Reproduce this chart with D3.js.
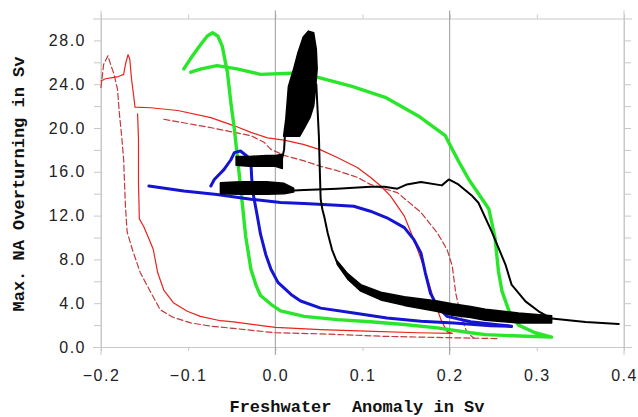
<!DOCTYPE html>
<html><head><meta charset="utf-8">
<script src="https://cdn.jsdelivr.net/npm/d3@7"></script>
<style>
body{margin:0;background:#fff;}
.tick text{font-family:"Liberation Sans",Arial,sans-serif;font-size:16px;letter-spacing:1.5px;fill:#222;}
.title{font-family:"Liberation Mono","Courier New",monospace;font-weight:bold;font-size:17px;fill:#111;}
</style></head><body>
<svg width="638" height="417"></svg>
<script>
// tick values
const xTicks=[-0.2,-0.1,0.0,0.1,0.2,0.3,0.4];
const xMajor=[-0.2,0.0,0.2,0.4];
const yTicks=[0,2,4,6,8,10,12,14,16,18,20,22,24,26,28,30];
const yLabels=[0,4,8,12,16,20,24,28];

// red thin solid loop [freshwater, overturning]
const redSolid=[[-0.200,24.3],[-0.195,24.5],[-0.187,24.6],[-0.180,24.7],[-0.174,24.9],[-0.172,25.8],[-0.169,26.7],[-0.167,26.3],[-0.165,24.5],[-0.162,22.6],[-0.161,21.9],
 [-0.143,21.85],[-0.112,21.6],[-0.074,20.95],[-0.047,20.2],[-0.028,19.6],[-0.009,19.1],[0.010,18.9],[0.032,18.5],[0.052,18.0],[0.071,17.3],[0.094,16.4],[0.109,15.5],[0.121,14.7],[0.132,13.8],[0.148,11.95],[0.159,9.8],[0.170,7.4],[0.182,4.3],[0.190,2.5],[0.197,1.4],[0.203,1.25],
 [0.164,1.3],[0.104,1.45],[0.052,1.58],[0.0,1.79],[-0.048,2.3],[-0.063,2.4],[-0.086,2.8],[-0.101,3.26],[-0.117,4.05],[-0.128,5.2],[-0.135,6.8],[-0.140,8.9],[-0.143,9.5],[-0.151,11.0],[-0.156,11.7],[-0.157,15.0],[-0.157,19.0],[-0.158,21.3]];
// red dashed, lower part and upper branch
const redDashLow=[[-0.200,23.7],[-0.197,25.8],[-0.192,26.6],[-0.189,25.8],[-0.185,24.9],[-0.181,23.5],[-0.179,21.4],[-0.176,19.0],[-0.174,17.1],[-0.172,12.9],[-0.170,10.5],[-0.164,8.9],[-0.155,6.8],[-0.143,5.0],[-0.132,3.4],[-0.117,2.7],[-0.097,2.2],[-0.074,1.9],[-0.048,1.7],[0.0,1.3],[0.052,1.2],[0.126,0.97],[0.201,0.85],[0.256,0.76]];
const redDashUp=[[-0.128,20.8],[-0.107,20.5],[-0.072,20.0],[-0.028,19.3],[-0.013,18.7],[-0.005,18.05],[0.010,17.5],[0.033,17.0],[0.052,16.5],[0.071,16.1],[0.094,15.5],[0.109,14.85],[0.121,14.55],[0.140,14.1],[0.167,12.3],[0.186,10.4],[0.197,8.9],[0.203,7.4],[0.207,4.9],[0.213,2.8],[0.220,1.3],[0.228,0.8]];
// green loop
const green=[[-0.105,25.4],[-0.095,26.6],[-0.085,27.7],[-0.078,28.4],[-0.072,28.7],[-0.066,28.4],[-0.061,27.5],[-0.055,25.1],[-0.051,22.3],[-0.047,19.9],[-0.044,17.7],[-0.040,14.7],[-0.034,10.1],[-0.028,7.1],[-0.022,5.6],[-0.017,4.7],[-0.005,3.9],[0.006,3.3],[0.033,2.8],[0.071,2.5],[0.109,2.3],[0.148,2.05],[0.186,1.75],[0.224,1.3],[0.241,1.13],[0.280,1.0],[0.317,0.9],
 [0.298,1.3],[0.279,2.0],[0.268,3.3],[0.260,5.1],[0.256,6.9],[0.252,10.0],[0.245,12.6],[0.222,15.3],[0.210,17.0],[0.203,18.05],[0.195,19.3],[0.164,21.1],[0.126,22.8],[0.088,23.8],[0.050,24.6],[0.018,25.0],[-0.017,24.9],[-0.044,25.4],[-0.067,25.7],[-0.085,25.4],[-0.097,25.1]];
// blue
const blueUp=[[-0.145,14.7],[-0.105,14.25],[-0.067,13.93],[-0.028,13.5],[0.006,13.2],[0.033,13.1],[0.071,12.95],[0.090,12.85],[0.109,12.4],[0.128,11.8],[0.148,10.9],[0.159,9.8],[0.167,8.6],[0.172,6.8],[0.178,4.9],[0.186,3.7],[0.197,2.8],[0.224,2.3],[0.247,2.1],[0.271,1.9]];
const blueLow=[[-0.074,14.7],[-0.070,15.3],[-0.059,16.2],[-0.051,17.1],[-0.047,17.75],[-0.040,17.9],[-0.032,17.4],[-0.028,16.8],[-0.027,15.3],[-0.025,13.8],[-0.021,12.1],[-0.017,10.3],[-0.011,8.45],[-0.005,7.1],[0.003,5.9],[0.018,4.8],[0.029,4.2],[0.052,3.55],[0.090,3.1],[0.128,2.65],[0.167,2.35],[0.205,2.2],[0.247,1.95],[0.271,1.88]];
// black: thin parts
const blackLine=[[0.021,14.3],[0.033,14.33],[0.071,14.46],[0.109,14.64],[0.125,14.64],[0.140,14.46],[0.151,14.85],[0.167,15.06],[0.191,14.76],[0.199,15.3],[0.210,14.85],[0.226,13.78],[0.233,13.17],[0.248,10.58],[0.264,7.53],[0.271,5.7],[0.287,4.17],[0.302,3.26],[0.317,2.6],[0.356,2.29],[0.394,2.1]];
const blackDrop=[[0.047,24.0],[0.050,19.2],[0.051,16.2],[0.052,13.5],[0.054,12.56],[0.056,11.95],[0.060,10.43],[0.065,8.9],[0.071,7.69]];
const blackRise=[[0.006,16.6],[0.010,18.0],[0.011,19.3]];
// black oscillating bands [x, low, high]
const bandA=[[-0.045,16.6,17.4],[-0.030,16.5,17.4],[-0.010,16.5,17.5],[0.000,16.5,17.5],[0.008,16.3,17.6]];
const bandB=[[-0.063,14.0,15.0],[-0.040,13.95,15.1],[-0.010,13.95,15.1],[0.010,14.0,14.95],[0.021,14.15,14.5]];
const bandC=[[0.071,7.55,7.85],[0.083,6.2,6.7],[0.098,5.1,5.7],[0.121,4.3,5.0],[0.148,3.8,4.6],[0.186,3.25,4.2],[0.203,2.9,3.95],[0.224,2.7,3.7],[0.241,2.45,3.45],[0.279,2.2,3.1],[0.317,2.2,2.85]];
// black spike outline
const spike=[[0.0095,19.25],[0.012,20.8],[0.015,23.8],[0.021,25.4],[0.026,26.9],[0.032,28.3],[0.038,28.85],[0.044,28.7],[0.047,27.2],[0.048,25.4],[0.046,23.5],[0.044,22.0],[0.040,21.0],[0.034,20.1],[0.028,19.25]];

const svg=d3.select("svg");
const x=d3.scaleLinear().domain([-0.2,0.4]).range([101,624]);
const y=d3.scaleLinear().domain([0,30]).range([347,18.5]);
const line=d3.line().x(d=>x(d[0])).y(d=>y(d[1]));
const area=d3.area().x(d=>x(d[0])).y0(d=>y(d[1])).y1(d=>y(d[2]));
const fmt=d3.format(".1f");

// axes
const gl=svg.append("g").attr("transform","translate("+x(-0.2)+",0)")
  .call(d3.axisLeft(y).tickValues(yTicks).tickSize(7).tickSizeOuter(0).tickPadding(8)
  .tickFormat(d=>yLabels.includes(d)?fmt(d):""));
const gr=svg.append("g").attr("transform","translate("+x(0.4)+",0)")
  .call(d3.axisRight(y).tickValues(yTicks).tickSize(7).tickSizeOuter(0).tickFormat(""));
const gb=svg.append("g").attr("transform","translate(0,"+y(0)+")")
  .call(d3.axisBottom(x).tickValues(xTicks).tickSize(4).tickSizeOuter(0).tickFormat(fmt));
gb.selectAll("text").attr("y",34).attr("dy","0");
const gt=svg.append("g").attr("transform","translate(0,"+y(30)+")")
  .call(d3.axisTop(x).tickValues(xTicks).tickSize(4).tickSizeOuter(0).tickFormat(""));
[gl,gr,gb,gt].forEach(g=>{
  g.select(".domain").attr("stroke","#c8c8c8");
  g.selectAll(".tick line").attr("stroke","#c8c8c8");
});
// the two horizontal frame lines reach past the sides
gl.selectAll(".tick line").filter(d=>d===0||d===30).attr("x2",-8);
gr.selectAll(".tick line").filter(d=>d===0||d===30).attr("x2",8);

// vertical lines at the major x ticks
svg.append("g").selectAll("line").data(xMajor).enter().append("line")
  .attr("x1",d=>x(d)).attr("x2",d=>x(d))
  .attr("y1",y(30)-8).attr("y2",y(0)+8)
  .attr("stroke",d=>(d===0||d===0.2)?"#9a9a9a":"#c8c8c8").attr("stroke-width",1);

// curves
const plot=svg.append("g").attr("fill","none").attr("stroke-linejoin","round").attr("stroke-linecap","round");
plot.append("path").attr("d",line(redDashLow)).attr("stroke","#c23a3a").attr("stroke-width",1.2).attr("stroke-dasharray","6,3");
plot.append("path").attr("d",line(redDashUp)).attr("stroke","#c23a3a").attr("stroke-width",1.2).attr("stroke-dasharray","6,3");
plot.append("path").attr("d",line(redSolid)).attr("stroke","#e8241c").attr("stroke-width",1.2);
plot.append("path").attr("d",line(green)).attr("stroke","#2ae62a").attr("stroke-width",3.4);
plot.append("path").attr("d",line(blueUp)).attr("stroke","#1414d2").attr("stroke-width",3);
plot.append("path").attr("d",line(blueLow)).attr("stroke","#1414d2").attr("stroke-width",3);
plot.append("path").attr("d",line(blackLine)).attr("stroke","#000").attr("stroke-width",2);
plot.append("path").attr("d",line(blackDrop)).attr("stroke","#000").attr("stroke-width",2);
plot.append("path").attr("d",line(blackRise)).attr("stroke","#000").attr("stroke-width",2);
[bandA,bandB,bandC].forEach(b=>{
  plot.append("path").attr("d",area(b)).attr("fill","#000").attr("stroke","#000").attr("stroke-width",1.5);
});
plot.append("path").attr("d",line(spike)+"Z").attr("fill","#000").attr("stroke","#000").attr("stroke-width",1.5);

// axis titles
svg.append("text").attr("class","title").attr("x",357).attr("y",412).attr("text-anchor","middle")
  .attr("xml:space","preserve").text("Freshwater  Anomaly in Sv");
svg.append("text").attr("class","title").attr("transform","translate(24,184) rotate(-90)")
  .attr("text-anchor","middle").text("Max. NA Overturning in Sv");
</script>
</body></html>
